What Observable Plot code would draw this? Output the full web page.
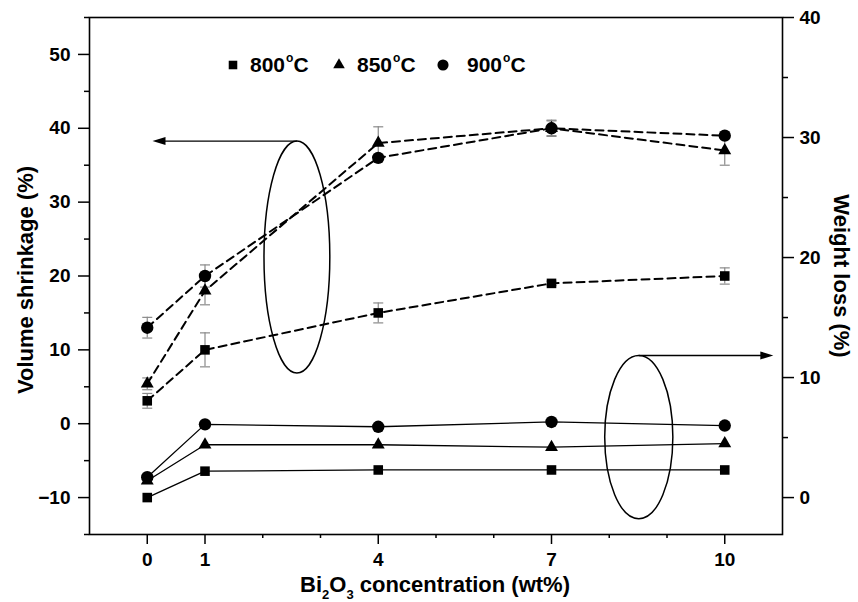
<!DOCTYPE html>
<html>
<head>
<meta charset="utf-8">
<script src="https://cdn.jsdelivr.net/npm/d3@7"></script>
<script src="https://cdn.jsdelivr.net/npm/@observablehq/plot@0.6"></script>
<style>
  html, body { margin: 0; padding: 0; background: #fff; }
  #chart svg { display: block; }
</style>
</head>
<body>
<div id="chart"></div>
<script>
// Bi2O3 content (wt%) of the samples
const concentrations = [0, 1, 4, 7, 10];

// Volume shrinkage (%) and its standard deviation, per sintering temperature
const shrinkage800 = [3.1, 10, 15, 19, 20];
const shrinkage850 = [5.4, 18, 38, 40, 37];
const shrinkage900 = [13, 20, 36, 40, 39];
const shrinkageErr800 = [1.0, 2.3, 1.35, 0.3, 1.1];
const shrinkageErr850 = [0.8, 1.9, 2.2, 1.0, 2.0];
const shrinkageErr900 = [1.4, 1.5, 0.4, 1.1, 0.3];

// Weight loss (%) per sintering temperature (right axis)
const weightLoss800 = [0, 2.2, 2.3, 2.3, 2.3];
const weightLoss850 = [1.4, 4.4, 4.4, 4.2, 4.5];
const weightLoss900 = [1.7, 6.1, 5.9, 6.3, 6.0];

const temperatures = ["800", "850", "900"];
const symbols = ["square", "triangle", "circle"];

// Axis ticks
const xMajorTicks = [0, 1, 4, 7, 10];
const xMinorTicks = [2, 3, 5, 6, 8, 9];
const shrinkTicks = [-10, 0, 10, 20, 30, 40, 50];
const shrinkMinorTicks = [-15, -5, 5, 15, 25, 35, 45, 55];
const lossTicks = [0, 10, 20, 30, 40];
const lossMinorTicks = [5, 15, 25, 35];

// The weight-loss axis shares the plot's y scale: right value v sits at -10 + 1.625 v
const toLeft = v => -10 + v * 1.625;
const fromLeft = y => (y + 10) / 1.625;

const shrinkSeries = [shrinkage800, shrinkage850, shrinkage900];
const shrinkErrSeries = [shrinkageErr800, shrinkageErr850, shrinkageErr900];
const lossSeries = [weightLoss800, weightLoss850, weightLoss900];

const rows = temperatures.map((t, k) => concentrations.map((c, i) => ({
  temp: t,
  conc: c,
  shrink: shrinkSeries[k][i],
  err: shrinkErrSeries[k][i],
  loss: lossSeries[k][i]
})));

// Short horizontal line used as the error bar cap
const capSymbol = {
  draw(context, size) {
    const w = Math.sqrt(size / Math.PI);
    context.moveTo(-w, 0);
    context.lineTo(w, 0);
  }
};

const sizes = {square: 5.4, triangle: 4.8, circle: 6.2};
const errColor = "#8a8a8a";

// Ellipse + arrow callouts pointing each group of curves to its axis
const callouts = [
  {cx: 2.6, cy: 22.5, rx: 0.57, ry: 15.7, arrowTo: 0.1},
  {cx: 8.52, cy: toLeft(5.0), rx: 0.59, ry: 6.8 * 1.625, arrowTo: 10.85}
];

function calloutMark(index, scales) {
  const {x, y} = scales;
  const g = d3.create("svg:g");
  for (const c of callouts) {
    const cx = x(c.cx), cy = y(c.cy);
    const rx = Math.abs(x(c.cx + c.rx) - cx);
    const ry = Math.abs(y(c.cy + c.ry) - cy);
    g.append("ellipse")
      .attr("cx", cx).attr("cy", cy).attr("rx", rx).attr("ry", ry)
      .attr("fill", "none").attr("stroke", "black").attr("stroke-width", 1.5);
    const top = cy - ry;
    const tip = x(c.arrowTo);
    const dir = tip < cx ? -1 : 1;
    g.append("line")
      .attr("x1", cx).attr("y1", top).attr("x2", tip - dir * 10).attr("y2", top)
      .attr("stroke", "black").attr("stroke-width", 1.4);
    g.append("path")
      .attr("d", `M${tip},${top}L${tip - dir * 13},${top - 4}L${tip - dir * 13},${top + 4}Z`)
      .attr("fill", "black");
  }
  return g.node();
}

// Legend row inside the frame
const legendItems = [
  {label: "800", symbol: d3.symbolSquare, r: sizes.square, sx: 233, tx: 250},
  {label: "850", symbol: d3.symbolTriangle, r: sizes.triangle, sx: 339, tx: 357},
  {label: "900", symbol: d3.symbolCircle, r: sizes.circle, sx: 443, tx: 467}
];

function legendMark() {
  const g = d3.create("svg:g");
  const cy = 65;
  for (const it of legendItems) {
    g.append("path")
      .attr("transform", `translate(${it.sx},${cy})`)
      .attr("d", d3.symbol(it.symbol, Math.PI * it.r * it.r * 0.8)())
      .attr("fill", "black");
    const t = g.append("text")
      .attr("x", it.tx).attr("y", cy + 7)
      .attr("text-anchor", "start")
      .attr("font-size", 21).attr("font-weight", "bold");
    t.append("tspan").text(it.label);
    t.append("tspan").text("o").attr("font-size", 12).attr("dy", -10).attr("dx", 1);
    t.append("tspan").text("C").attr("dy", 10);
  }
  return g.node();
}

// Axis titles (the x title carries subscripts)
function titlesMark() {
  const g = d3.create("svg:g").attr("font-weight", "bold").attr("font-size", 22);
  g.append("text")
    .attr("transform", "translate(33,280) rotate(-90)")
    .attr("text-anchor", "middle")
    .text("Volume shrinkage (%)");
  g.append("text")
    .attr("transform", "translate(834,276) rotate(90)")
    .attr("text-anchor", "middle")
    .text("Weight loss (%)");
  const xt = g.append("text")
    .attr("x", 435).attr("y", 592)
    .attr("text-anchor", "middle");
  xt.append("tspan").text("Bi");
  xt.append("tspan").text("2").attr("font-size", 13).attr("dy", 7);
  xt.append("tspan").text("O").attr("dy", -7);
  xt.append("tspan").text("3").attr("font-size", 13).attr("dy", 7);
  xt.append("tspan").text(" concentration (wt%)").attr("dy", -7);
  return g.node();
}

const marks = [];

// Error bars (behind everything else)
rows.forEach(data => {
  marks.push(
    Plot.ruleX(data, {x: "conc", y1: d => d.shrink - d.err, y2: d => d.shrink + d.err, stroke: errColor, strokeWidth: 1.2}),
    Plot.dot(data, {x: "conc", y: d => d.shrink + d.err, symbol: capSymbol, r: 5, stroke: errColor, fill: "none", strokeWidth: 1.2}),
    Plot.dot(data, {x: "conc", y: d => d.shrink - d.err, symbol: capSymbol, r: 5, stroke: errColor, fill: "none", strokeWidth: 1.2})
  );
});

// Volume shrinkage: dashed lines; weight loss: solid lines
rows.forEach(data => {
  marks.push(
    Plot.line(data, {x: "conc", y: "shrink", stroke: "black", strokeWidth: 2, strokeDasharray: "8,5"}),
    Plot.line(data, {x: "conc", y: d => toLeft(d.loss), stroke: "black", strokeWidth: 1.3})
  );
});
rows.forEach((data, k) => {
  const sym = symbols[k];
  marks.push(
    Plot.dot(data, {x: "conc", y: "shrink", symbol: sym, r: sizes[sym], fill: "black", stroke: "none"}),
    Plot.dot(data, {x: "conc", y: d => toLeft(d.loss), symbol: sym, r: sizes[sym], fill: "black", stroke: "none"})
  );
});

const chart = Plot.plot({
  width: 858,
  height: 602,
  marginLeft: 89,
  marginRight: 76,
  marginTop: 17,
  marginBottom: 68,
  style: "font-family: 'Liberation Sans', Arial, sans-serif; font-size: 19px; font-weight: bold; background: white; color: black; overflow: visible;",
  x: {domain: [-1, 11], axis: null},
  y: {domain: [-15, 55], axis: null},
  marks: [
    ...marks,
    Plot.axisY(shrinkTicks, {anchor: "left", tickSize: 11, tickPadding: 8, strokeWidth: 1.5, label: null, fontSize: 19}),
    Plot.axisY(shrinkMinorTicks, {anchor: "left", tickSize: 5, strokeWidth: 1.5, label: null, tickFormat: () => ""}),
    Plot.axisY(lossTicks.map(toLeft), {anchor: "right", tickSize: 11, tickPadding: 6, strokeWidth: 1.5, label: null, fontSize: 19, tickFormat: d => String(Math.round(fromLeft(d)))}),
    Plot.axisY(lossMinorTicks.map(toLeft), {anchor: "right", tickSize: 5, strokeWidth: 1.5, label: null, tickFormat: () => ""}),
    Plot.axisX(xMajorTicks, {anchor: "bottom", tickSize: 10, tickPadding: 8, strokeWidth: 1.5, label: null, fontSize: 19}),
    Plot.axisX(xMinorTicks, {anchor: "bottom", tickSize: 4, strokeWidth: 1.5, label: null, tickFormat: () => ""}),
    Plot.frame({stroke: "black", strokeWidth: 1.6}),
    calloutMark,
    legendMark,
    titlesMark
  ]
});

document.getElementById("chart").appendChild(chart);
</script>
</body>
</html>
